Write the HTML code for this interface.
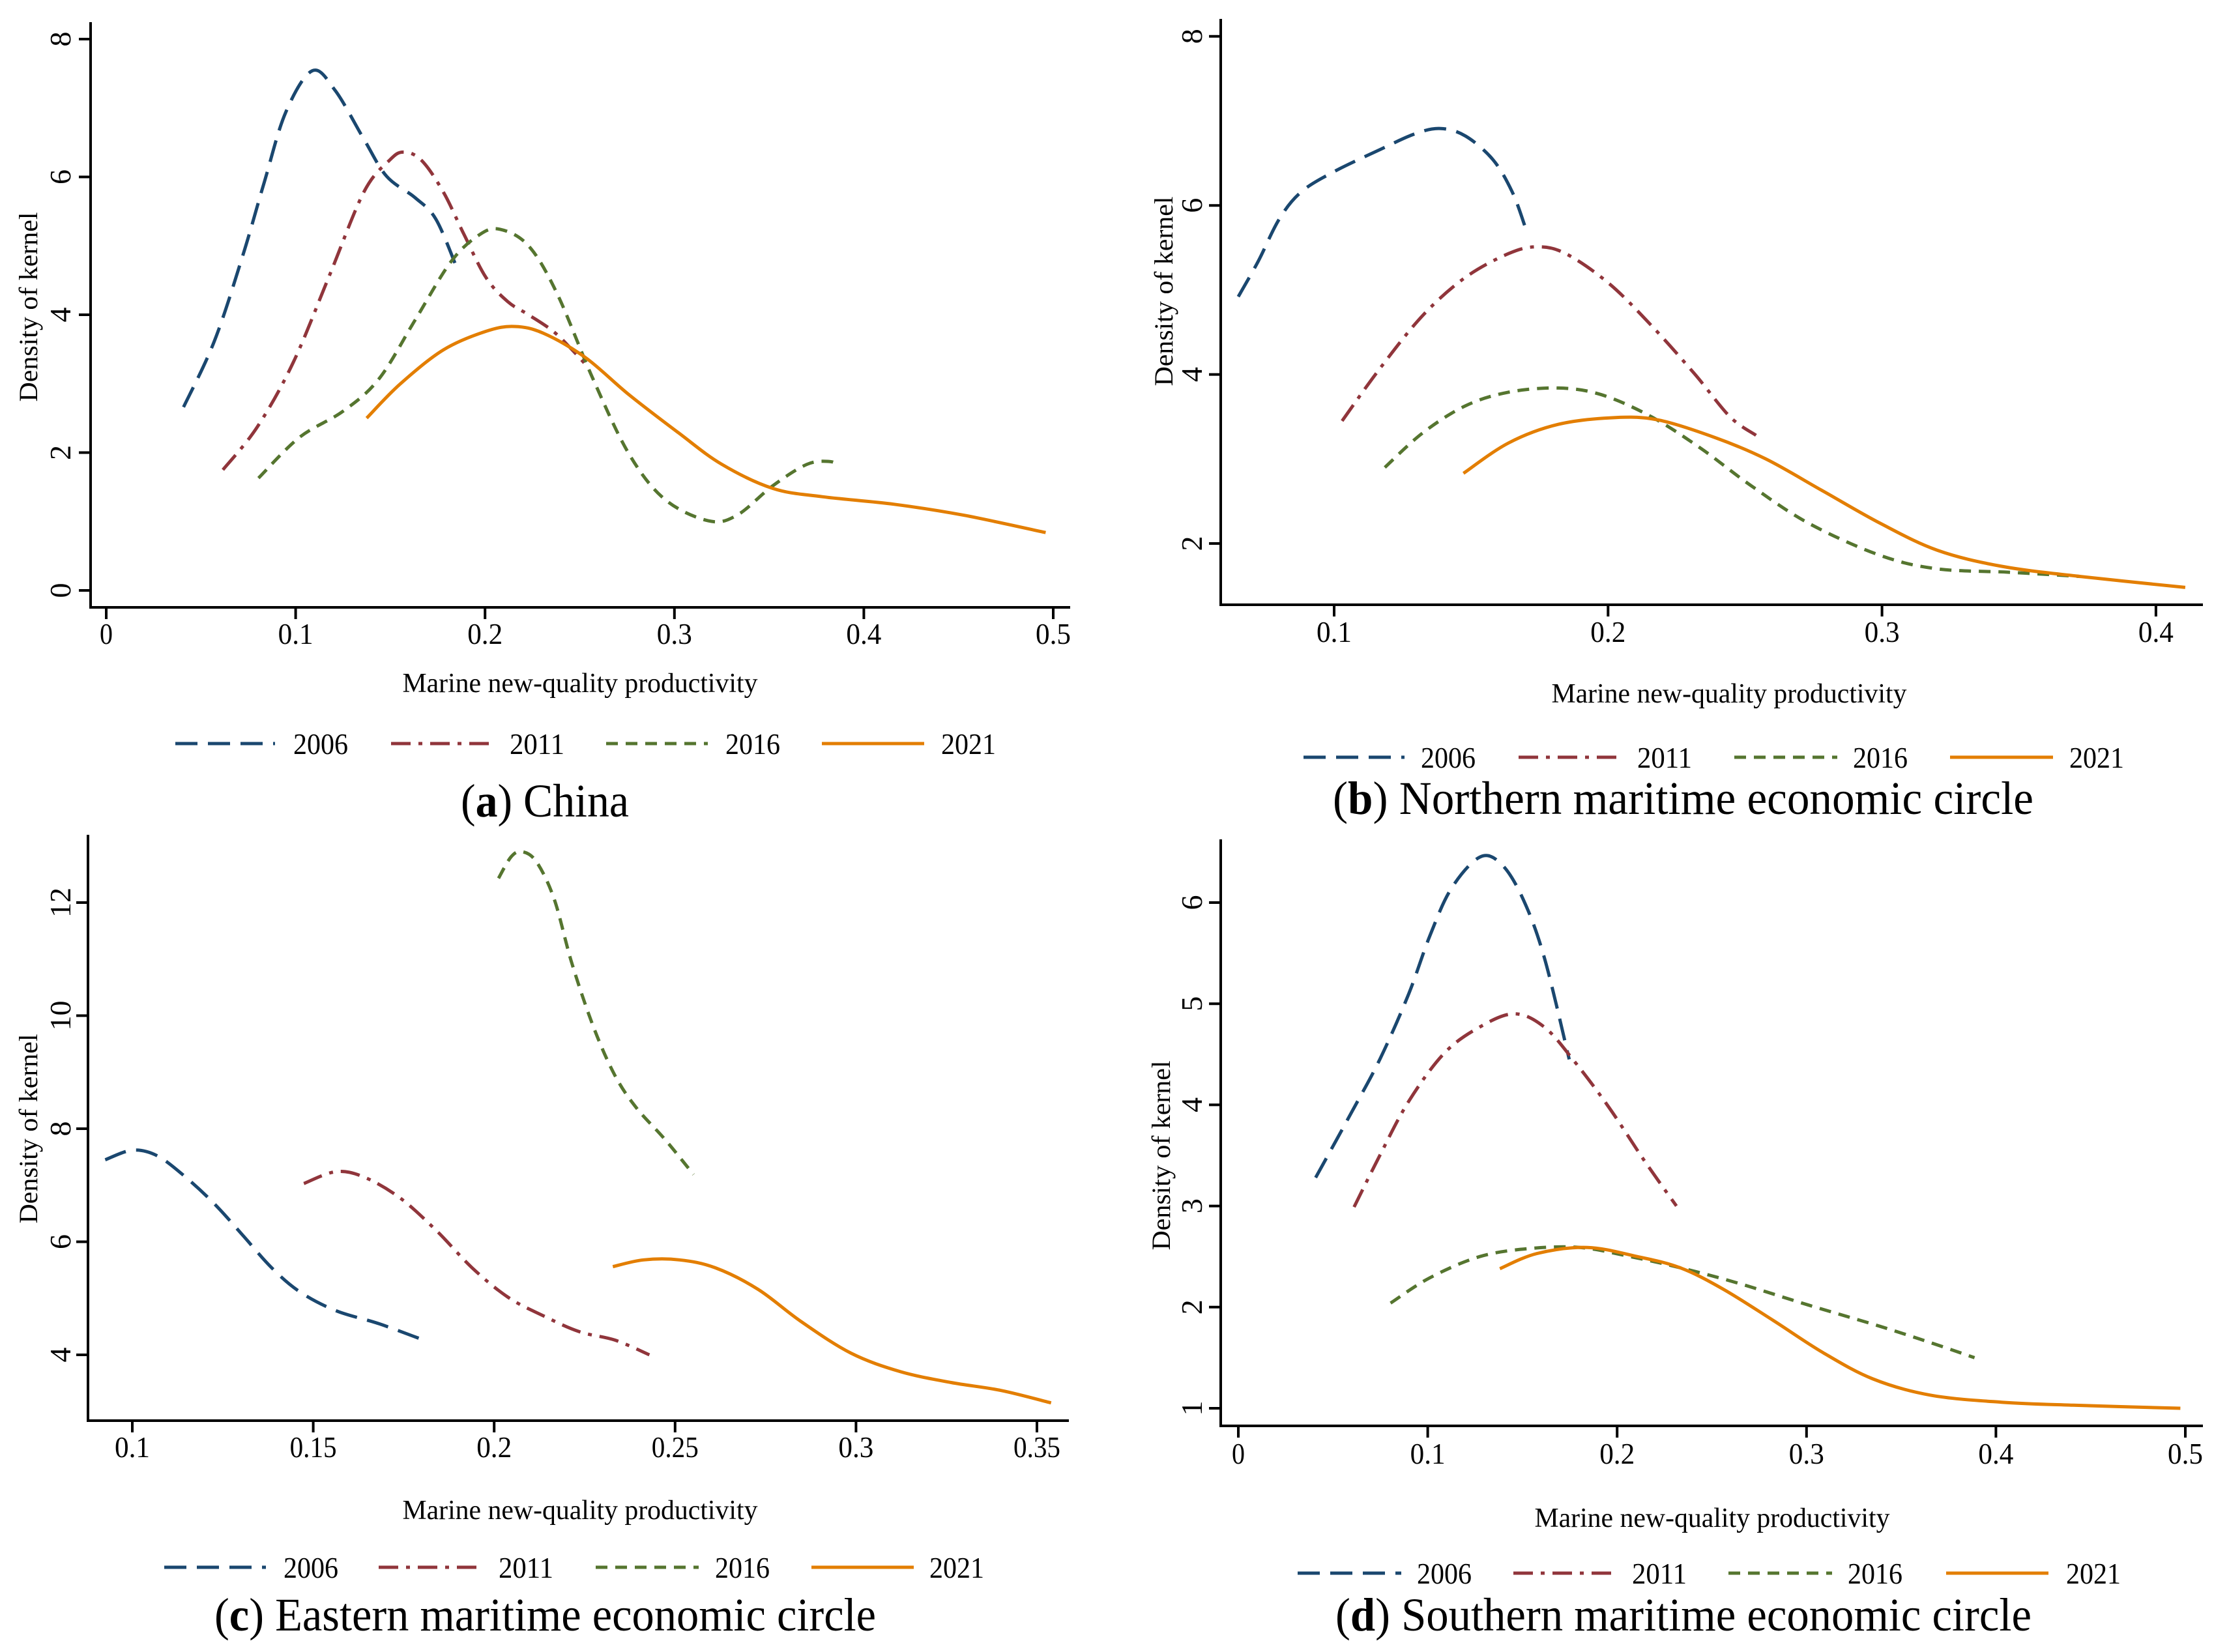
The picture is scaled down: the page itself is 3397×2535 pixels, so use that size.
<!DOCTYPE html>
<html><head><meta charset="utf-8">
<style>html,body{margin:0;padding:0;background:#fff;overflow:hidden}svg{display:block}</style></head>
<body>
<svg id="fig" width="3397" height="2535" viewBox="0 0 3397 2535" xmlns="http://www.w3.org/2000/svg" font-family="'Liberation Serif', serif"></svg>
<script>
// ---- Panel (a) China ----
const aX2006=[0.0408,0.057,0.072,0.0835,0.0948,0.1088,0.121,0.136,0.148,0.163,0.174,0.185];
const aY2006=[2.66,3.61,4.85,5.93,6.94,7.54,7.25,6.55,6.01,5.70,5.39,4.69];
const aX2011=[0.0616,0.0797,0.0986,0.1174,0.136,0.1495,0.157,0.1665,0.178,0.189,0.2005,0.212,0.223,0.236,0.246,0.255];
const aY2011=[1.75,2.37,3.30,4.54,5.78,6.24,6.36,6.24,5.78,5.16,4.54,4.19,4.00,3.76,3.49,3.22];
const aX2016=[0.0804,0.102,0.125,0.144,0.163,0.182,0.197,0.208,0.223,0.238,0.257,0.276,0.295,0.318,0.333,0.352,0.370,0.382,0.387];
const aY2016=[1.63,2.22,2.60,3.07,3.92,4.77,5.16,5.24,5.00,4.31,3.07,1.98,1.32,1.01,1.09,1.52,1.83,1.87,1.81];
const aX2021=[0.1375,0.155,0.178,0.2005,0.2156,0.231,0.253,0.276,0.302,0.325,0.352,0.378,0.416,0.453,0.496];
const aY2021=[2.50,2.99,3.49,3.76,3.83,3.73,3.38,2.84,2.29,1.83,1.48,1.36,1.25,1.09,0.84];
const aXTicks=[0,0.1,0.2,0.3,0.4,0.5];
const aYTicks=[0,2,4,6,8];
// ---- Panel (b) Northern ----
const bX2006=[0.065,0.0723,0.080,0.088,0.1,0.1167,0.1297,0.1389,0.148,0.158,0.165,0.1697];
const bY2006=[4.92,5.34,5.84,6.16,6.40,6.66,6.85,6.91,6.82,6.54,6.16,5.75];
const bX2011=[0.1029,0.1167,0.1324,0.148,0.1637,0.1741,0.1845,0.2002,0.2158,0.2315,0.2445,0.254];
const bY2011=[3.45,4.07,4.70,5.15,5.43,5.51,5.43,5.08,4.58,4.01,3.50,3.28];
const bX2016=[0.1185,0.1324,0.148,0.1637,0.1819,0.1976,0.2158,0.2341,0.2524,0.2732,0.2993,0.3202,0.3463,0.3724];
const bY2016=[2.90,3.31,3.63,3.79,3.84,3.76,3.50,3.12,2.68,2.24,1.86,1.70,1.66,1.61];
const bX2021=[0.1472,0.1637,0.1819,0.2028,0.2185,0.2393,0.2576,0.2785,0.2993,0.3202,0.3437,0.3724,0.4107];
const bY2021=[2.83,3.19,3.41,3.49,3.46,3.25,3.00,2.62,2.24,1.92,1.73,1.61,1.48];
const bXTicks=[0.1,0.2,0.3,0.4];
const bYTicks=[2,4,6,8];
// ---- Panel (c) Eastern ----
const cX2006=[0.0925,0.1,0.1069,0.1148,0.1227,0.1306,0.1385,0.1464,0.1563,0.1682,0.1814];
const cY2006=[7.45,7.62,7.52,7.14,6.67,6.11,5.54,5.11,4.78,4.55,4.24];
const cX2011=[0.1474,0.1563,0.1642,0.1741,0.184,0.1939,0.2038,0.2136,0.2235,0.2334,0.2429];
const cY2011=[7.03,7.24,7.14,6.77,6.20,5.54,5.02,4.69,4.41,4.26,4.00];
const cX2016=[0.2012,0.2047,0.2077,0.2117,0.2166,0.2215,0.2275,0.2334,0.2393,0.2472,0.2551];
const cY2016=[12.43,12.81,12.90,12.72,12.06,10.92,9.79,8.94,8.37,7.81,7.19];
const cX2021=[0.2328,0.2413,0.2512,0.2611,0.2729,0.2848,0.2986,0.3124,0.3263,0.3401,0.3539];
const cY2021=[5.56,5.68,5.68,5.54,5.16,4.59,4.03,3.70,3.51,3.37,3.15];
const cXTicks=[0.1,0.15,0.2,0.25,0.3,0.35];
const cYTicks=[4,6,8,10,12];
// ---- Panel (d) Southern ----
const dX2006=[0.0408,0.0596,0.0747,0.0898,0.1011,0.1125,0.1275,0.1389,0.1502,0.1615,0.1747];
const dY2006=[3.28,3.92,4.45,5.09,5.67,6.14,6.45,6.38,6.04,5.46,4.45];
const dX2011=[0.0611,0.0747,0.0898,0.1087,0.1275,0.1457,0.1615,0.1766,0.1955,0.2143,0.2313];
const dY2011=[2.99,3.50,4.03,4.51,4.77,4.90,4.77,4.45,3.98,3.45,3.00];
const dX2016=[0.0804,0.1011,0.1275,0.154,0.1804,0.2068,0.2332,0.2634,0.3011,0.3389,0.3653,0.3887];
const dY2016=[2.04,2.29,2.50,2.58,2.59,2.50,2.39,2.24,2.02,1.81,1.65,1.50];
const dX2021=[0.1381,0.1577,0.1842,0.2106,0.2332,0.2558,0.2823,0.3087,0.3351,0.3653,0.403,0.4408,0.4974];
const dY2021=[2.38,2.53,2.59,2.50,2.39,2.18,1.87,1.55,1.29,1.13,1.06,1.03,1.00];
const dXTicks=[0,0.1,0.2,0.3,0.4,0.5];
const dYTicks=[1,2,3,4,5,6];

const years=['2006','2011','2016','2021'];
const colors=['#1a476f','#90353b','#55752f','#e37e00'];
const dashes=['34,16','30,12,6,12','18,12',''];
const NS='http://www.w3.org/2000/svg';
const svg=document.getElementById('fig');
function mk(tag,attrs,parent){const e=document.createElementNS(NS,tag);for(const k in attrs)e.setAttribute(k,attrs[k]);(parent||svg).appendChild(e);return e;}
function fmt(v){return String(v);}
function pathFrom(pts){
  let d='M'+pts[0][0].toFixed(1)+','+pts[0][1].toFixed(1);
  for(let i=0;i<pts.length-1;i++){
    const p0=pts[Math.max(0,i-1)],p1=pts[i],p2=pts[i+1],p3=pts[Math.min(pts.length-1,i+2)];
    const c1=[p1[0]+(p2[0]-p0[0])/6,p1[1]+(p2[1]-p0[1])/6];
    const c2=[p2[0]-(p3[0]-p1[0])/6,p2[1]-(p3[1]-p1[1])/6];
    d+=' C'+c1[0].toFixed(1)+','+c1[1].toFixed(1)+' '+c2[0].toFixed(1)+','+c2[1].toFixed(1)+' '+p2[0].toFixed(1)+','+p2[1].toFixed(1);
  }
  return d;
}
function panel(P){
  const g=mk('g',{});
  
  
  const sx=v=>P.x0px+(v-P.x0v)*P.xs;
  const sy=v=>P.y0px-(v-P.y0v)*P.ys;
  const ya=mk('line',{x1:P.left,y1:P.top,x2:P.left,y2:P.bottom,stroke:'#000','stroke-width':4},g);
  
  
  const xa=mk('line',{x1:P.left-2,y1:P.bottom,x2:P.right,y2:P.bottom,stroke:'#000','stroke-width':4},g);
  
  
  P.xt.forEach(v=>{
    const x=sx(v);
    mk('line',{x1:x,y1:P.bottom,x2:x,y2:P.bottom+18,stroke:'#000','stroke-width':4},g);
    const s=fmt(v);
    const t=mk('text',{x:x,y:P.xLabY+6,'text-anchor':'middle','font-size':46,textLength:(s.length===1?20:s.length*18),lengthAdjust:'spacingAndGlyphs'},g);
    t.textContent=s;
    
    
  });
  P.yt.forEach(v=>{
    const y=sy(v);
    mk('line',{x1:P.left-18,y1:y,x2:P.left,y2:y,stroke:'#000','stroke-width':4},g);
    const t=mk('text',{x:0,y:0,'text-anchor':'middle','font-size':46,transform:'translate('+(P.yLabX+15)+','+y+') rotate(-90)'},g);
    t.textContent=String(v);
    
    
  });
  P.series.forEach((s,i)=>{
    const pts=s[0].map((xv,j)=>[sx(xv),sy(s[1][j])]);
    const p=mk('path',{d:pathFrom(pts),fill:'none',stroke:colors[i],'stroke-width':5,'stroke-linecap':'butt'},g);
    if(dashes[i])p.setAttribute('stroke-dasharray',dashes[i]);
    
    
  });
  const yt=mk('text',{x:0,y:0,'text-anchor':'middle','font-size':40,textLength:291,lengthAdjust:'spacingAndGlyphs',transform:'translate('+(P.yTitX+13)+','+P.yTitY+') rotate(-90)'},g);
  yt.textContent='Density of kernel';
  
  
  const xt=mk('text',{x:P.xTitX,y:P.xTitY+5,'text-anchor':'middle','font-size':42,textLength:545,lengthAdjust:'spacingAndGlyphs'},g);
  xt.textContent='Marine new-quality productivity';
  
  
  P.leg.forEach((L,i)=>{
    const lg=mk('g',{},g);
    
    
    const ln=mk('line',{x1:L[0],y1:P.legY-10,x2:L[1],y2:P.legY-10,stroke:colors[i],'stroke-width':5},lg);
    if(dashes[i])ln.setAttribute('stroke-dasharray',dashes[i]);
    const t=mk('text',{x:L[2],y:P.legY+6,'font-size':46,textLength:84,lengthAdjust:'spacingAndGlyphs'},lg);
    t.textContent=years[i];
  });
  const c=mk('text',{x:P.capX,y:P.capY+12,'font-size':72,textLength:P.capW,lengthAdjust:'spacingAndGlyphs'},g);
  
  
  const t1=mk('tspan',{},c);t1.textContent='(';
  const t2=mk('tspan',{'font-weight':'bold'},c);t2.textContent=P.letter;
  const t3=mk('tspan',{},c);t3.textContent=') '+P.caption;
}
panel({name:'panel-a-china',left:139,right:1642,top:34,bottom:932,x0v:0,x0px:163,xs:2906,y0v:0,y0px:906,ys:105.75,
  xt:aXTicks,yt:aYTicks,xLabY:982,yLabX:93,yTitX:44,yTitY:471,xTitX:890,xTitY:1057,legY:1151,
  leg:[[269,422,450],[600,757,782],[930,1086,1113],[1261,1418,1444]],capX:707,capY:1241,capW:258,letter:'a',caption:'China',
  series:[[aX2006,aY2006],[aX2011,aY2011],[aX2016,aY2016],[aX2021,aY2021]]});
panel({name:'panel-b-northern',left:1873,right:3380,top:29,bottom:928,x0v:0.1,x0px:2047,xs:4203,y0v:2,y0px:834,ys:129.7,
  xt:bXTicks,yt:bYTicks,xLabY:979,yLabX:1829,yTitX:1786,yTitY:447,xTitX:2653,xTitY:1073,legY:1172,
  leg:[[2000,2155,2180],[2330,2487,2512],[2661,2819,2843],[2992,3150,3175]],capX:2045,capY:1237,capW:1075,letter:'b',caption:'Northern maritime economic circle',
  series:[[bX2006,bY2006],[bX2011,bY2011],[bX2016,bY2016],[bX2021,bY2021]]});
panel({name:'panel-c-eastern',left:135,right:1640,top:1281,bottom:2180,x0v:0.1,x0px:203,xs:5552,y0v:4,y0px:2079,ys:86.75,
  xt:cXTicks,yt:cYTicks,xLabY:2230,yLabX:93,yTitX:44,yTitY:1732,xTitX:890,xTitY:2326,legY:2415,
  leg:[[252,408,435],[581,740,765],[914,1072,1097],[1245,1402,1426]],capX:329,capY:2490,capW:1015,letter:'c',caption:'Eastern maritime economic circle',
  series:[[cX2006,cY2006],[cX2011,cY2011],[cX2016,cY2016],[cX2021,cY2021]]});
panel({name:'panel-d-southern',left:1873,right:3380,top:1288,bottom:2188,x0v:0,x0px:1900,xs:2906,y0v:1,y0px:2161,ys:155.2,
  xt:dXTicks,yt:dYTicks,xLabY:2240,yLabX:1829,yTitX:1782,yTitY:1773,xTitX:2627,xTitY:2338,legY:2424,
  leg:[[1991,2150,2174],[2322,2479,2504],[2652,2811,2835],[2986,3143,3170]],capX:2049,capY:2490,capW:1068,letter:'d',caption:'Southern maritime economic circle',
  series:[[dX2006,dY2006],[dX2011,dY2011],[dX2016,dY2016],[dX2021,dY2021]]});
</script>
</body></html>
